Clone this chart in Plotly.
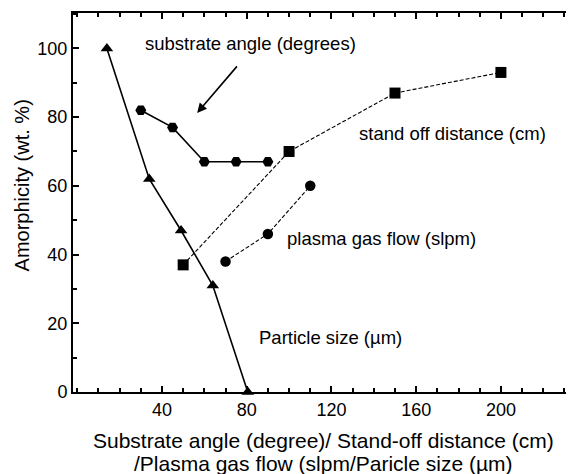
import plotly.graph_objects as go

# Particle size (µm) series
particle_x = [14, 34, 49, 64, 80.5]
particle_y = [100, 62, 47, 31, 0]

# Substrate angle (degrees) series
substrate_x = [30, 45, 60, 75, 90]
substrate_y = [82, 77, 67, 67, 67]

# Stand-off distance (cm) series
standoff_x = [50, 100, 150, 200]
standoff_y = [37, 70, 87, 93]

# Plasma gas flow (slpm) series
plasma_x = [70, 90, 110]
plasma_y = [38, 46, 60]

x_tickvals = [40, 80, 120, 160, 200]
y_tickvals = [0, 20, 40, 60, 80, 100]

FONT = "Liberation Sans, Arial, Helvetica, sans-serif"

fig = go.Figure()

fig.add_trace(go.Scatter(
    x=particle_x, y=particle_y, mode="lines+markers",
    line=dict(color="black", width=1.6),
    marker=dict(symbol="triangle-up", size=11, color="black"),
    cliponaxis=False, showlegend=False))

fig.add_trace(go.Scatter(
    x=substrate_x, y=substrate_y, mode="lines+markers",
    line=dict(color="black", width=1.6),
    marker=dict(symbol="hexagon2", size=11, color="black"),
    cliponaxis=False, showlegend=False))

fig.add_trace(go.Scatter(
    x=standoff_x, y=standoff_y, mode="lines+markers",
    line=dict(color="black", width=1.1, dash="4px,2px"),
    marker=dict(symbol="square", size=11, color="black"),
    cliponaxis=False, showlegend=False))

fig.add_trace(go.Scatter(
    x=plasma_x, y=plasma_y, mode="lines+markers",
    line=dict(color="black", width=1.1, dash="4px,2px"),
    marker=dict(symbol="circle", size=10.5, color="black"),
    cliponaxis=False, showlegend=False))

ann_font = dict(family=FONT, size=18.5, color="black")
fig.add_annotation(x=31, y=101.5, text="substrate angle (degrees)", showarrow=False,
                   xanchor="left", yanchor="middle", font=ann_font)
fig.add_annotation(x=132, y=75.3, text="stand off distance (cm)", showarrow=False,
                   xanchor="left", yanchor="middle", font=ann_font)
fig.add_annotation(x=98, y=44.8, text="plasma gas flow (slpm)", showarrow=False,
                   xanchor="left", yanchor="middle", font=ann_font)
fig.add_annotation(x=85, y=16, text="Particle size (µm)", showarrow=False,
                   xanchor="left", yanchor="middle", font=ann_font)
# arrow
fig.add_annotation(x=56.6, y=81.2, ax=76, ay=95.2, axref="x", ayref="y",
                   xref="x", yref="y", text="", showarrow=True,
                   arrowhead=2, arrowsize=1.2, arrowwidth=1.6, arrowcolor="black")

# axis titles as paper annotations
title_font = dict(family=FONT, size=21, color="black")
fig.add_annotation(xref="paper", yref="paper", x=0.5, y=0, yanchor="middle",
                   yshift=-48, showarrow=False, font=title_font,
                   text="Substrate angle (degree)/ Stand-off distance (cm)")
fig.add_annotation(xref="paper", yref="paper", x=0.5, y=0, yanchor="middle",
                   yshift=-71, showarrow=False, font=title_font,
                   text="/Plasma gas flow (slpm/Paricle size (µm)")
fig.add_annotation(xref="paper", yref="paper", x=0, y=0.545, xanchor="center",
                   yanchor="middle", xshift=-51, textangle=-90, showarrow=False,
                   font=dict(family=FONT, size=20, color="black"),
                   text="Amorphicity (wt. %)")

fig.update_layout(
    width=574, height=474,
    margin=dict(l=65, r=8, t=5, b=90),
    paper_bgcolor="white", plot_bgcolor="white",
    font=dict(family=FONT, color="black"),
    xaxis=dict(
        range=[-2, 234.5], tickvals=x_tickvals, ticktext=[str(v) for v in x_tickvals],
        ticks="inside", ticklen=6, tickwidth=2, tickcolor="black",
        minor=dict(dtick=10, tick0=0, ticks="inside", ticklen=4, tickwidth=1.5, tickcolor="black"),
        showline=True, linecolor="black", linewidth=2, mirror="ticks",
        showgrid=False, zeroline=False, automargin=False,
        tickfont=dict(family=FONT, size=18),
    ),
    yaxis=dict(
        range=[0, 110.3], tickvals=y_tickvals, ticktext=[str(v) for v in y_tickvals],
        ticks="inside", ticklen=6, tickwidth=2, tickcolor="black",
        minor=dict(dtick=10, tick0=0, ticks="inside", ticklen=4, tickwidth=1.5, tickcolor="black"),
        showline=True, linecolor="black", linewidth=2, mirror=False,
        showgrid=False, zeroline=False, automargin=False,
        tickfont=dict(family=FONT, size=18),
    ),
)

fig.write_html("out.html")
